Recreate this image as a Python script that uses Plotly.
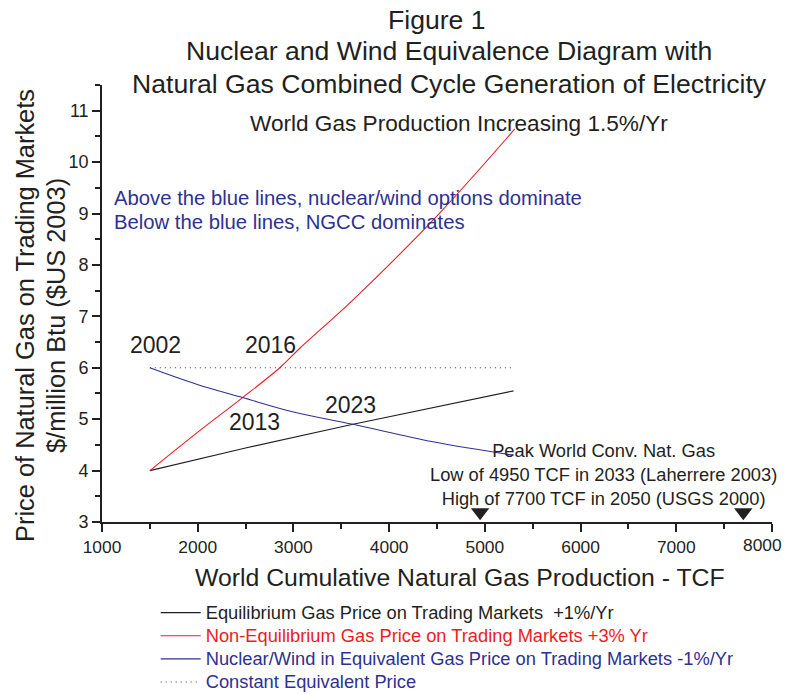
import plotly.graph_objects as go

# ---- data ----
eq_x = [1500, 2500, 3623, 4500, 5300]
eq_y = [4.00, 4.44, 4.90, 5.24, 5.55]

red_x = [1500, 1988, 2469, 2858, 3067, 3623, 4528, 5311]
red_y = [4.00, 4.73, 5.42, 6.00, 6.38, 7.32, 9.01, 10.64]

blue_x = [1500, 1988, 2469, 3000, 3623, 4458, 5300]
blue_y = [6.00, 5.68, 5.42, 5.14, 4.90, 4.56, 4.30]

const_x = [1500, 5300]
const_y = [6.0, 6.0]

peak_x = [4950, 7700]
peak_y = [3.19, 3.19]

x_tickvals = [1000, 2000, 3000, 4000, 5000, 6000, 7000, 8000]
x_ticktext = ["1000", "2000", "3000", "4000", "5000", "6000", "7000", ""]
last_x_label = "8000"

year_labels = ["2002", "2016", "2013", "2023"]

BLACK = "#231f20"
RED = "#ed1c24"
BLUE = "#2e3192"
FONT = "Liberation Sans, Arial, Helvetica, sans-serif"

# the page body adds an 8px margin, so the figure is drawn 8px smaller and
# all positions measured on the 792x694 picture are shifted by OFF
OFF = 8
W, H = 792 - OFF, 694 - OFF
L, R, T, B = 102 - OFF, 20, 85 - OFF, 172
pw, ph = W - L - R, H - T - B
X0, X1, Y0, Y1 = 1000, 8000, 3, 11.5


def px_x(px):  # picture pixel -> data x
    return X0 + (px - OFF - L) / pw * (X1 - X0)


def px_y(py):  # picture pixel -> data y
    return Y0 + (H - B - (py - OFF)) / ph * (Y1 - Y0)


def paper_x(px):
    return (px - OFF - L) / pw


def paper_y(py):
    return (H - B - (py - OFF)) / ph


LEG_FS = "18.3px"


def leg(text, color):
    return "<span style='color:%s;font-size:%s'>%s</span>" % (color, LEG_FS, text)


fig = go.Figure()
fig.add_trace(go.Scatter(x=eq_x, y=eq_y, mode="lines", line=dict(color=BLACK, width=1.1),
                         name=leg("Equilibrium Gas Price on Trading Markets &nbsp;+1%/Yr", BLACK)))
fig.add_trace(go.Scatter(x=red_x, y=red_y, mode="lines", line=dict(color=RED, width=1.1, shape="spline"),
                         name=leg("Non-Equilibrium Gas Price on Trading Markets +3% Yr", RED)))
fig.add_trace(go.Scatter(x=blue_x, y=blue_y, mode="lines", line=dict(color=BLUE, width=1.1, shape="spline"),
                         name=leg("Nuclear/Wind in Equivalent Gas Price on Trading Markets -1%/Yr", BLUE)))
fig.add_trace(go.Scatter(x=const_x, y=const_y, mode="lines", line=dict(color=BLUE, width=1.1, dash="1px,4px"),
                         name=leg("Constant Equivalent Price", BLUE)))
fig.add_trace(go.Scatter(x=peak_x, y=peak_y, mode="markers", showlegend=False, cliponaxis=False,
                         marker=dict(symbol="triangle-down", size=16, color=BLACK, line=dict(width=0))))

C = dict(xanchor="center", yanchor="middle", showarrow=False)
ann = []
# title lines
for txt, cx, cy in [("Figure 1", 437, 19.5),
                    ("Nuclear and Wind Equivalence Diagram with", 449, 51),
                    ("Natural Gas Combined Cycle Generation of Electricity", 449, 84.5)]:
    ann.append(dict(xref="paper", yref="paper", x=paper_x(cx), y=paper_y(cy), text=txt,
                    font=dict(size=26.6, color=BLACK), **C))
# year labels
for t, cx, cy in zip(year_labels, [155.7, 270.7, 254.3, 350], [345.3, 345.3, 422, 404.5]):
    ann.append(dict(x=px_x(cx), y=px_y(cy), text=t, font=dict(size=23, color=BLACK), **C))
ann.append(dict(x=px_x(459), y=px_y(123), text="World Gas Production Increasing 1.5%/Yr",
                font=dict(size=22.6, color=BLACK), **C))
ann.append(dict(x=px_x(112), y=px_y(197.5), xanchor="left", yanchor="middle", showarrow=False,
                text="Above the blue lines, nuclear/wind options dominate", font=dict(size=20.3, color=BLUE)))
ann.append(dict(x=px_x(112), y=px_y(222), xanchor="left", yanchor="middle", showarrow=False,
                text="Below the blue lines, NGCC dominates", font=dict(size=20.3, color=BLUE)))
ann.append(dict(x=px_x(603.5), y=px_y(474), align="center",
                text="Peak World Conv. Nat. Gas<br>Low of 4950 TCF in 2033 (Laherrere 2003)<br>High of 7700 TCF in 2050 (USGS 2000)",
                font=dict(size=18.3, color=BLACK), **C))
ann.append(dict(xref="paper", yref="paper", x=paper_x(460), y=paper_y(577),
                text="World Cumulative Natural Gas Production - TCF", font=dict(size=24.8, color=BLACK), **C))
ann.append(dict(xref="paper", yref="paper", x=paper_x(25), y=paper_y(316), textangle=-90,
                text="Price of Natural Gas on Trading Markets", font=dict(size=25.4, color=BLACK), **C))
ann.append(dict(xref="paper", yref="paper", x=paper_x(56), y=paper_y(316), textangle=-90,
                text="$/million Btu ($US 2003)", font=dict(size=25.4, color=BLACK), **C))
# last x tick label kept inside the visible page
ann.append(dict(xref="paper", yref="paper", x=paper_x(784), y=paper_y(545), xanchor="right",
                yanchor="middle", showarrow=False, text=last_x_label, font=dict(size=17.4, color=BLACK)))

fig.update_layout(
    width=W, height=H,
    margin=dict(l=L, r=R, t=T, b=B, autoexpand=False),
    paper_bgcolor="white", plot_bgcolor="white",
    font=dict(family=FONT, color=BLACK, size=18),
    annotations=ann,
    showlegend=True,
    legend=dict(x=paper_x(155.7), xanchor="left", y=paper_y(596), yanchor="top",
                bgcolor="rgba(0,0,0,0)", font=dict(size=15.5, color=BLACK),
                itemwidth=40, tracegroupgap=0),
    xaxis=dict(range=[X0, X1], tickvals=x_tickvals, ticktext=x_ticktext, showgrid=False, zeroline=False,
               showline=True, linecolor=BLACK, linewidth=1.6, ticks="outside", ticklen=8,
               tickwidth=1.5, tickcolor=BLACK, tickfont=dict(size=17.4), ticklabeloverflow="allow",
               minor=dict(dtick=500, tick0=1000, ticks="outside", ticklen=5, tickwidth=1.5, tickcolor=BLACK)),
    yaxis=dict(range=[Y0, Y1], dtick=1, tick0=3, showgrid=False, zeroline=False,
               showline=True, linecolor=BLACK, linewidth=1.6, ticks="outside", ticklen=8,
               tickwidth=1.5, tickcolor=BLACK, tickfont=dict(size=18), ticklabeloverflow="allow",
               minor=dict(dtick=0.5, ticks="outside", ticklen=5, tickwidth=1.5, tickcolor=BLACK)),
)

fig.write_html("out.html")
